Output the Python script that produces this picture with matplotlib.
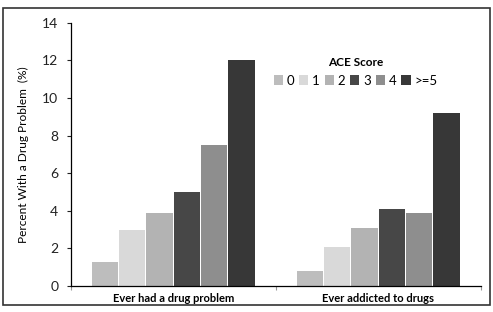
import numpy as np
import matplotlib
matplotlib.use("Agg")
import matplotlib.pyplot as plt
from matplotlib.patches import Rectangle

FONT = 'Lato'
matplotlib.rcParams['font.family'] = [FONT, 'DejaVu Sans']

categories = ["Ever had a drug problem", "Ever addicted to drugs"]
ace_scores = ["0", "1", "2", "3", "4", ">=5"]
values = np.array([
    [1.3, 0.8],   # 0
    [3.0, 2.1],   # 1
    [3.9, 3.1],   # 2
    [5.0, 4.1],   # 3
    [7.5, 3.9],   # 4
    [12.0, 9.2],  # >=5
])
colors = ["#bdbdbd", "#d9d9d9", "#b3b3b3", "#474747", "#8e8e8e", "#373737"]

fig = plt.figure(figsize=(4.93, 3.12), dpi=100)
ax = fig.add_axes([70.7/493, 1-286/312, 410/493, (286-22.7)/312])

n = len(ace_scores)
group_w = 0.8
bw = group_w / n
x = np.arange(len(categories))
for i in range(n):
    ax.bar(x - group_w/2 + bw*(i+0.5), values[i], width=bw*0.97,
           color=colors[i], label=ace_scores[i], linewidth=0)

ax.set_xlim(-0.5, 1.5)
ax.set_ylim(0, 14)
ax.set_yticks(range(0, 15, 2))
ax.set_xticks([-0.5, 0.5, 1.5])
ax.set_xticklabels(["", "", ""])
ax.tick_params(axis='y', labelsize=10, length=3, width=0.8, pad=6, colors='#222222')
ax.tick_params(axis='x', length=3, width=0.8, color='#999999')
for j, c in enumerate(categories):
    ax.text(x[j], -0.028, c, transform=ax.get_xaxis_transform(), ha='center', va='top',
            fontsize=8, fontweight='bold')

ax.spines['top'].set_visible(False)
ax.spines['right'].set_visible(False)
ax.spines['left'].set_linewidth(0.9)
ax.spines['bottom'].set_linewidth(0.9)
ax.set_ylabel('Percent With a Drug Problem  (%)', fontsize=8.6, labelpad=9)

leg = ax.legend(loc='upper center', bbox_to_anchor=(0.695, 0.895), ncol=6, frameon=False,
                title='ACE Score', fontsize=9.5, handlelength=0.7, handleheight=0.7,
                handletextpad=0.3, columnspacing=0.35, borderpad=0)
leg.get_title().set_fontweight('bold')
leg.get_title().set_fontsize(8.5)

# outer border of the chart area
fig.patches.append(Rectangle((3/493, 1-305/312), 487/493, 297/312, transform=fig.transFigure,
                             fill=False, edgecolor='#333333', linewidth=1.2))

fig.savefig("out.png", dpi=100)
